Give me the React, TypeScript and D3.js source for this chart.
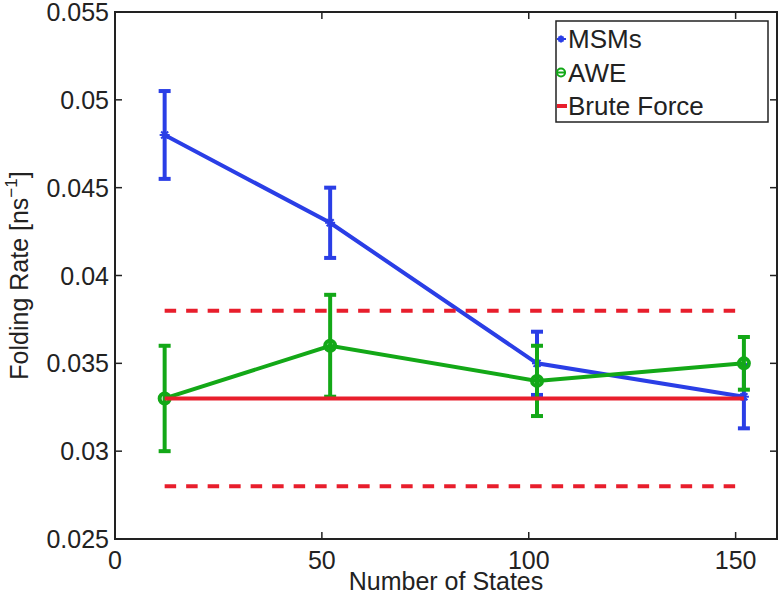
import React from "react";
import * as d3 from "d3";

const states = [12, 52, 102, 152];
const msmValues = [0.048, 0.043, 0.035, 0.0331];
const msmErrors = [0.0025, 0.002, 0.0018, 0.0018];
const aweValues = [0.033, 0.036, 0.034, 0.035];
const aweErrors = [0.003, 0.0029, 0.002, 0.0015];
const bruteMean = 0.033;
const bruteLow = 0.028;
const bruteHigh = 0.038;
const xTicks = [0, 50, 100, 150];
const yTicks = [0.025, 0.03, 0.035, 0.04, 0.045, 0.05, 0.055];
const legendLabels = ["MSMs", "AWE", "Brute Force"];

const W = 778;
const H = 598;
const M = { left: 115, right: 777, top: 12, bottom: 539 };
const BLUE = "#2a3ee6";
const GREEN = "#13a817";
const RED = "#e81e2c";
const FONT = "'Liberation Sans', Arial, Helvetica, sans-serif";

export default function App() {
  const x = d3.scaleLinear().domain([0, 160]).range([M.left, M.right]);
  const y = d3.scaleLinear().domain([0.025, 0.055]).range([M.bottom, M.top]);
  const line = d3
    .line<[number, number]>()
    .x((d) => x(d[0]))
    .y((d) => y(d[1]));

  const msmPts: [number, number][] = states.map((s, i) => [s, msmValues[i]]);
  const awePts: [number, number][] = states.map((s, i) => [s, aweValues[i]]);
  const xMin = states[0];
  const xMax = states[states.length - 1];
  const tickLen = 7;
  const cap = 6;

  const errorBars = (vals: number[], errs: number[], color: string) =>
    states.map((s, i) => {
      const cx = x(s);
      const y1 = y(vals[i] + errs[i]);
      const y2 = y(vals[i] - errs[i]);
      return (
        <g key={i} stroke={color} strokeWidth={4} fill="none">
          <line x1={cx} x2={cx} y1={y1} y2={y2} />
          <line x1={cx - cap} x2={cx + cap} y1={y1} y2={y1} />
          <line x1={cx - cap} x2={cx + cap} y1={y2} y2={y2} />
        </g>
      );
    });

  const star = (cx: number, cy: number, r: number, color: string, key: any) => (
    <g key={key} stroke={color} strokeWidth={2}>
      <line x1={cx - r} x2={cx + r} y1={cy} y2={cy} />
      <line x1={cx} x2={cx} y1={cy - r} y2={cy + r} />
      <line x1={cx - r * 0.7} x2={cx + r * 0.7} y1={cy - r * 0.7} y2={cy + r * 0.7} />
      <line x1={cx - r * 0.7} x2={cx + r * 0.7} y1={cy + r * 0.7} y2={cy - r * 0.7} />
    </g>
  );

  const legendX = 556;
  const legendY = 21;
  const legendW = 212;
  const legendH = 101;
  const rowY = [39, 72.5, 106];
  const fs = 25;

  return (
    <svg
      width={W}
      height={H}
      style={{ position: "absolute", left: 0, top: 0, background: "#fff" }}
      fontFamily={FONT}
    >
      <rect x={0} y={0} width={W} height={H} fill="#fff" />

      {/* MSMs */}
      {errorBars(msmValues, msmErrors, BLUE)}
      <path d={line(msmPts) || ""} fill="none" stroke={BLUE} strokeWidth={4} />
      {msmPts.map((p, i) => star(x(p[0]), y(p[1]), 5, BLUE, i))}

      {/* AWE */}
      {errorBars(aweValues, aweErrors, GREEN)}
      <path d={line(awePts) || ""} fill="none" stroke={GREEN} strokeWidth={4} />
      {awePts.map((p, i) => (
        <circle key={i} cx={x(p[0])} cy={y(p[1])} r={5} fill="none" stroke={GREEN} strokeWidth={4} />
      ))}

      {/* Brute force */}
      <line x1={x(xMin)} x2={x(xMax)} y1={y(bruteMean)} y2={y(bruteMean)} stroke={RED} strokeWidth={4} />
      {[bruteHigh, bruteLow].map((v, i) => (
        <line
          key={i}
          x1={x(xMin)}
          x2={x(xMax)}
          y1={y(v)}
          y2={y(v)}
          stroke={RED}
          strokeWidth={4}
          strokeDasharray="11.5 10"
        />
      ))}

      {/* Axes box */}
      <rect
        x={M.left}
        y={M.top}
        width={M.right - M.left}
        height={M.bottom - M.top}
        fill="none"
        stroke="#222"
        strokeWidth={2}
      />
      {xTicks.map((t) => (
        <g key={t}>
          <line x1={x(t)} x2={x(t)} y1={M.bottom} y2={M.bottom - tickLen} stroke="#222" strokeWidth={1.5} />
          <line x1={x(t)} x2={x(t)} y1={M.top} y2={M.top + tickLen} stroke="#222" strokeWidth={1.5} />
          <text x={x(t)} y={569} fontSize={fs} textAnchor="middle" fill="#222">
            {t}
          </text>
        </g>
      ))}
      {yTicks.map((t) => (
        <g key={t}>
          <line x1={M.left} x2={M.left + tickLen} y1={y(t)} y2={y(t)} stroke="#222" strokeWidth={1.5} />
          <line x1={M.right} x2={M.right - tickLen} y1={y(t)} y2={y(t)} stroke="#222" strokeWidth={1.5} />
          <text x={109} y={y(t)} dy="0.36em" fontSize={fs} textAnchor="end" fill="#222">
            {d3.format("")(+t.toFixed(3))}
          </text>
        </g>
      ))}

      <text x={(M.left + M.right) / 2} y={590} fontSize={fs} textAnchor="middle" fill="#222">
        Number of States
      </text>
      <text
        transform={`translate(28, ${(M.top + M.bottom) / 2}) rotate(-90)`}
        fontSize={fs}
        textAnchor="middle"
        fill="#222"
      >
        Folding Rate [ns
        <tspan fontSize={17} dy={-11}>
          −1
        </tspan>
        <tspan dy={11}>]</tspan>
      </text>

      {/* Legend */}
      <rect x={legendX} y={legendY} width={legendW} height={legendH} fill="#fff" stroke="#222" strokeWidth={1.5} />
      <line x1={legendX + 1} x2={legendX + 10} y1={rowY[0]} y2={rowY[0]} stroke={BLUE} strokeWidth={2} />
      {star(legendX + 5, rowY[0], 3.5, BLUE, "ls")}
      <line x1={legendX + 1} x2={legendX + 10} y1={rowY[1]} y2={rowY[1]} stroke={GREEN} strokeWidth={2} />
      <circle cx={legendX + 5} cy={rowY[1]} r={4} fill="none" stroke={GREEN} strokeWidth={2} />
      <line x1={legendX + 1} x2={legendX + 11} y1={rowY[2]} y2={rowY[2]} stroke={RED} strokeWidth={4} />
      {legendLabels.map((l, i) => (
        <text key={l} x={legendX + 12} y={rowY[i]} dy="0.36em" fontSize={26} fill="#222">
          {l}
        </text>
      ))}
    </svg>
  );
}
